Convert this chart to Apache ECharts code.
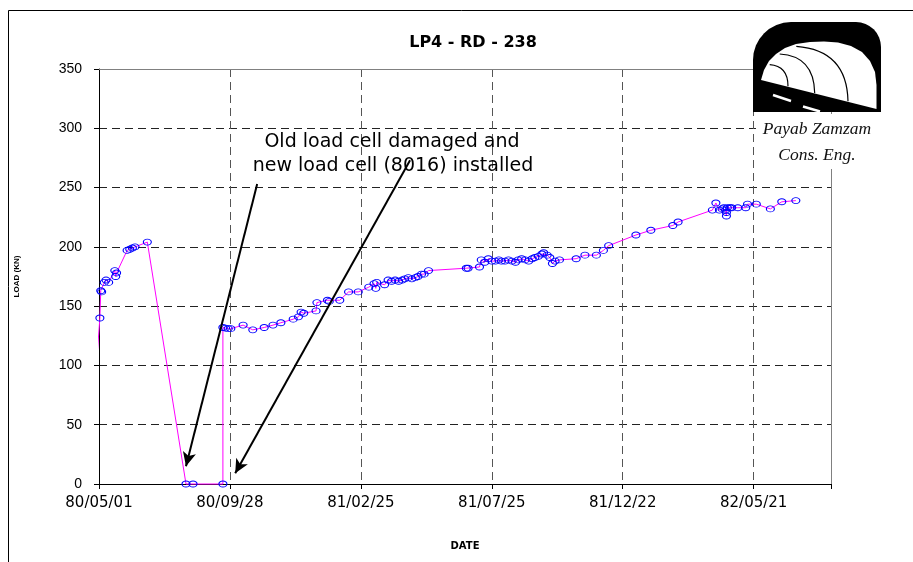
<!DOCTYPE html>
<html>
<head>
<meta charset="utf-8">
<script src="https://cdn.jsdelivr.net/npm/echarts@6/dist/echarts.min.js"></script>
<style>
  html, body { margin: 0; padding: 0; background: #fff; }
  #main { width: 913px; height: 562px; }
</style>
</head>
<body>
<div id="main"></div>
<script>
/// data

// x values are days counted from 80/05/01
const tickLabels = ['80/05/01', '80/09/28', '81/02/25', '81/07/25', '81/12/22', '82/05/21'];
const tickStep = 149;

const days = [
  -3, -3, 1, 2, 3, 6, 8, 11, 18, 19,
  20, 32, 35, 38, 41, 55, 99, 107, 141, 141,
  144, 147, 150, 164, 175, 188, 198, 207, 221, 227,
  230, 233, 247, 248, 260, 262, 274, 284, 295, 307,
  313, 315, 316, 325, 329, 333, 337, 341, 345, 348,
  352, 356, 360, 363, 367, 370, 375, 418, 420, 433,
  435, 439, 443, 447, 451, 455, 458, 462, 466, 470,
  474, 477, 481, 485, 489, 493, 496, 500, 504, 506,
  510, 513, 516, 519, 524, 543, 553, 566, 574, 580,
  611, 628, 653, 659, 698, 702, 706, 709, 711, 713,
  714, 714, 715, 718, 720, 727, 736, 738, 748, 764,
  777, 793
];

const loads = [
  0, 100, 140, 163, 162, 170, 172, 170, 180, 175,
  178, 197, 198, 199, 200, 204, 0, 0, 0, 132,
  131.5, 131, 131, 134, 130, 132, 134, 136, 139, 141,
  145, 144, 146, 153, 155, 154, 155, 162, 162, 166,
  169, 165, 170, 168, 172, 171, 172, 171, 172, 173,
  174, 173, 174, 175, 177, 177, 180, 182, 182, 183,
  189, 187, 190, 188, 188, 189, 188, 188, 189, 188,
  187, 189, 190, 189, 188, 190, 191, 192, 194, 195,
  193, 191, 186, 188, 189, 190, 193, 193, 197, 201,
  210, 214, 218, 221, 231, 237, 231, 232, 233, 231,
  226, 229, 233, 233, 233, 233, 233, 236, 236, 232,
  238, 239
];

// readings drawn without a marker (start of record)
const noMarker = 2;

// annotation arrows, [day, load] from -> to
const arrowFrom = [[180, 253], [354, 273]];
const arrowTo = [[99, 15], [155, 9]];
const noteLines = ['Old load cell damaged and', 'new load cell (8016) installed'];


/// chart

const chart = echarts.init(document.getElementById('main'), null, { renderer: 'canvas' });

const xMax = 833;
const font = 'Liberation Sans, Arial, sans-serif';
const wide = 'DejaVu Sans, sans-serif';

const xBase = {
  type: 'value', min: 0, max: xMax, interval: tickStep
};

// logo pieces (decoration, pixel space)
const archPoints = [
  [761, 80], [764, 70], [769, 61], [776, 54], [785, 48], [796, 44], [810, 42],
  [824, 41.5], [838, 42.5], [851, 46], [862, 52], [870, 61], [875, 72],
  [876.5, 85], [876.5, 109]
];
const arcs = [
  { x1: 769.7, y1: 64.7, cpx1: 788, cpy1: 66, x2: 788, y2: 86.3 },
  { x1: 779.7, y1: 54, cpx1: 814, cpy1: 56, x2: 814.7, y2: 93 },
  { x1: 796.3, y1: 46.3, cpx1: 847, cpy1: 50, x2: 848, y2: 101.3 }
];

const points = days.map((d, i) => (i < noMarker
  ? { value: [d, loads[i]], symbol: 'none' }
  : [d, loads[i]]));

chart.setOption({
  animation: false,
  backgroundColor: '#fff',
  title: {
    text: 'LP4 - RD - 238',
    left: 468, top: 30, textAlign: 'center',
    textStyle: { fontFamily: wide, fontSize: 16, fontWeight: 'bold', color: '#000' }
  },
  grid: { left: 99, right: 82, top: 69, bottom: 78 },
  xAxis: [
    Object.assign({}, xBase, {
      name: 'DATE', nameLocation: 'middle', nameGap: 57,
      nameTextStyle: { fontFamily: wide, fontSize: 10, fontWeight: 'bold', color: '#000' },
      axisLine: { onZero: false, lineStyle: { color: '#000', width: 1 } },
      axisTick: { length: 5, lineStyle: { color: '#000' } },
      axisLabel: {
        margin: 12, fontFamily: wide, fontSize: 15, color: '#000',
        formatter: v => (v % tickStep === 0 ? tickLabels[v / tickStep] || '' : '')
      },
      splitLine: { show: true, lineStyle: { color: '#555', type: [8, 5] } }
    }),
    Object.assign({}, xBase, {
      position: 'top',
      axisLine: { onZero: false, lineStyle: { color: '#808080' } },
      axisTick: { show: false }, axisLabel: { show: false }, splitLine: { show: false }
    })
  ],
  yAxis: [
    {
      type: 'value', min: 0, max: 350, interval: 50,
      name: 'LOAD (KN)', nameLocation: 'middle', nameGap: 78,
      nameTextStyle: { fontFamily: font, fontSize: 8, fontWeight: 'bold', color: '#000' },
      axisLine: { show: true, onZero: false, lineStyle: { color: '#000' } },
      axisTick: { show: true, length: 5, lineStyle: { color: '#000' } },
      axisLabel: { margin: 17, fontFamily: font, fontSize: 14, color: '#000' },
      splitLine: { show: true, lineStyle: { color: '#222', type: [8, 5] } }
    },
    {
      type: 'value', min: 0, max: 350, interval: 50, position: 'right',
      axisLine: { show: true, onZero: false, lineStyle: { color: '#808080' } },
      axisTick: { show: false }, axisLabel: { show: false }, splitLine: { show: false }
    }
  ],
  series: [{
    type: 'line',
    clip: false,
    data: points,
    lineStyle: { color: '#ff00ff', width: 1 },
    symbol: 'circle',
    symbolSize: [8, 6],
    itemStyle: { color: 'rgba(0,0,0,0)', borderColor: '#0000ff', borderWidth: 1 },
    emphasis: { disabled: true },
    markLine: {
      silent: true,
      symbol: ['none', 'arrow'],
      symbolSize: [10, 14],
      label: { show: false },
      lineStyle: { color: '#000', width: 2, type: 'solid' },
      data: arrowFrom.map((p, i) => [{ coord: p }, { coord: arrowTo[i] }])
    }
  }],
  graphic: [
    // outer frame
    { type: 'rect', shape: { x: 8.5, y: 10.5, width: 920, height: 570 },
      style: { fill: 'none', stroke: '#000', lineWidth: 1 }, z: 100 },
    // note
    { type: 'text', x: 392, y: 142, z: 100,
      style: { text: noteLines[0], font: '19px ' + wide, fill: '#000', align: 'center', verticalAlign: 'middle' } },
    { type: 'text', x: 393, y: 166, z: 100,
      style: { text: noteLines[1], font: '19px ' + wide, fill: '#000', align: 'center', verticalAlign: 'middle' } },
    // logo
    { type: 'rect', shape: { x: 756, y: 114, width: 112, height: 55 }, style: { fill: '#fff' }, z: 100 },
    { type: 'rect', shape: { x: 753, y: 22, width: 128, height: 90, r: [38, 25, 0, 0] }, style: { fill: '#000' }, z: 101 },
    { type: 'polygon', z: 102, shape: { points: archPoints }, style: { fill: '#fff' } },
    ...arcs.map(a => ({ type: 'bezierCurve', z: 103, shape: a, style: { fill: 'none', stroke: '#000', lineWidth: 1.2 } })),
    { type: 'line', z: 103, shape: { x1: 773, y1: 95, x2: 791, y2: 101 }, style: { stroke: '#fff', lineWidth: 2.5 } },
    { type: 'line', z: 103, shape: { x1: 803, y1: 106.5, x2: 820, y2: 111.5 }, style: { stroke: '#fff', lineWidth: 2.5 } },
    { type: 'text', x: 817, y: 129, z: 103,
      style: { text: 'Payab Zamzam', font: 'italic 17.5px Liberation Serif, serif', fill: '#111', align: 'center', verticalAlign: 'middle' } },
    { type: 'text', x: 817, y: 155, z: 103,
      style: { text: 'Cons. Eng.', font: 'italic 17.5px Liberation Serif, serif', fill: '#111', align: 'center', verticalAlign: 'middle' } }
  ]
});
</script>
</body>
</html>
